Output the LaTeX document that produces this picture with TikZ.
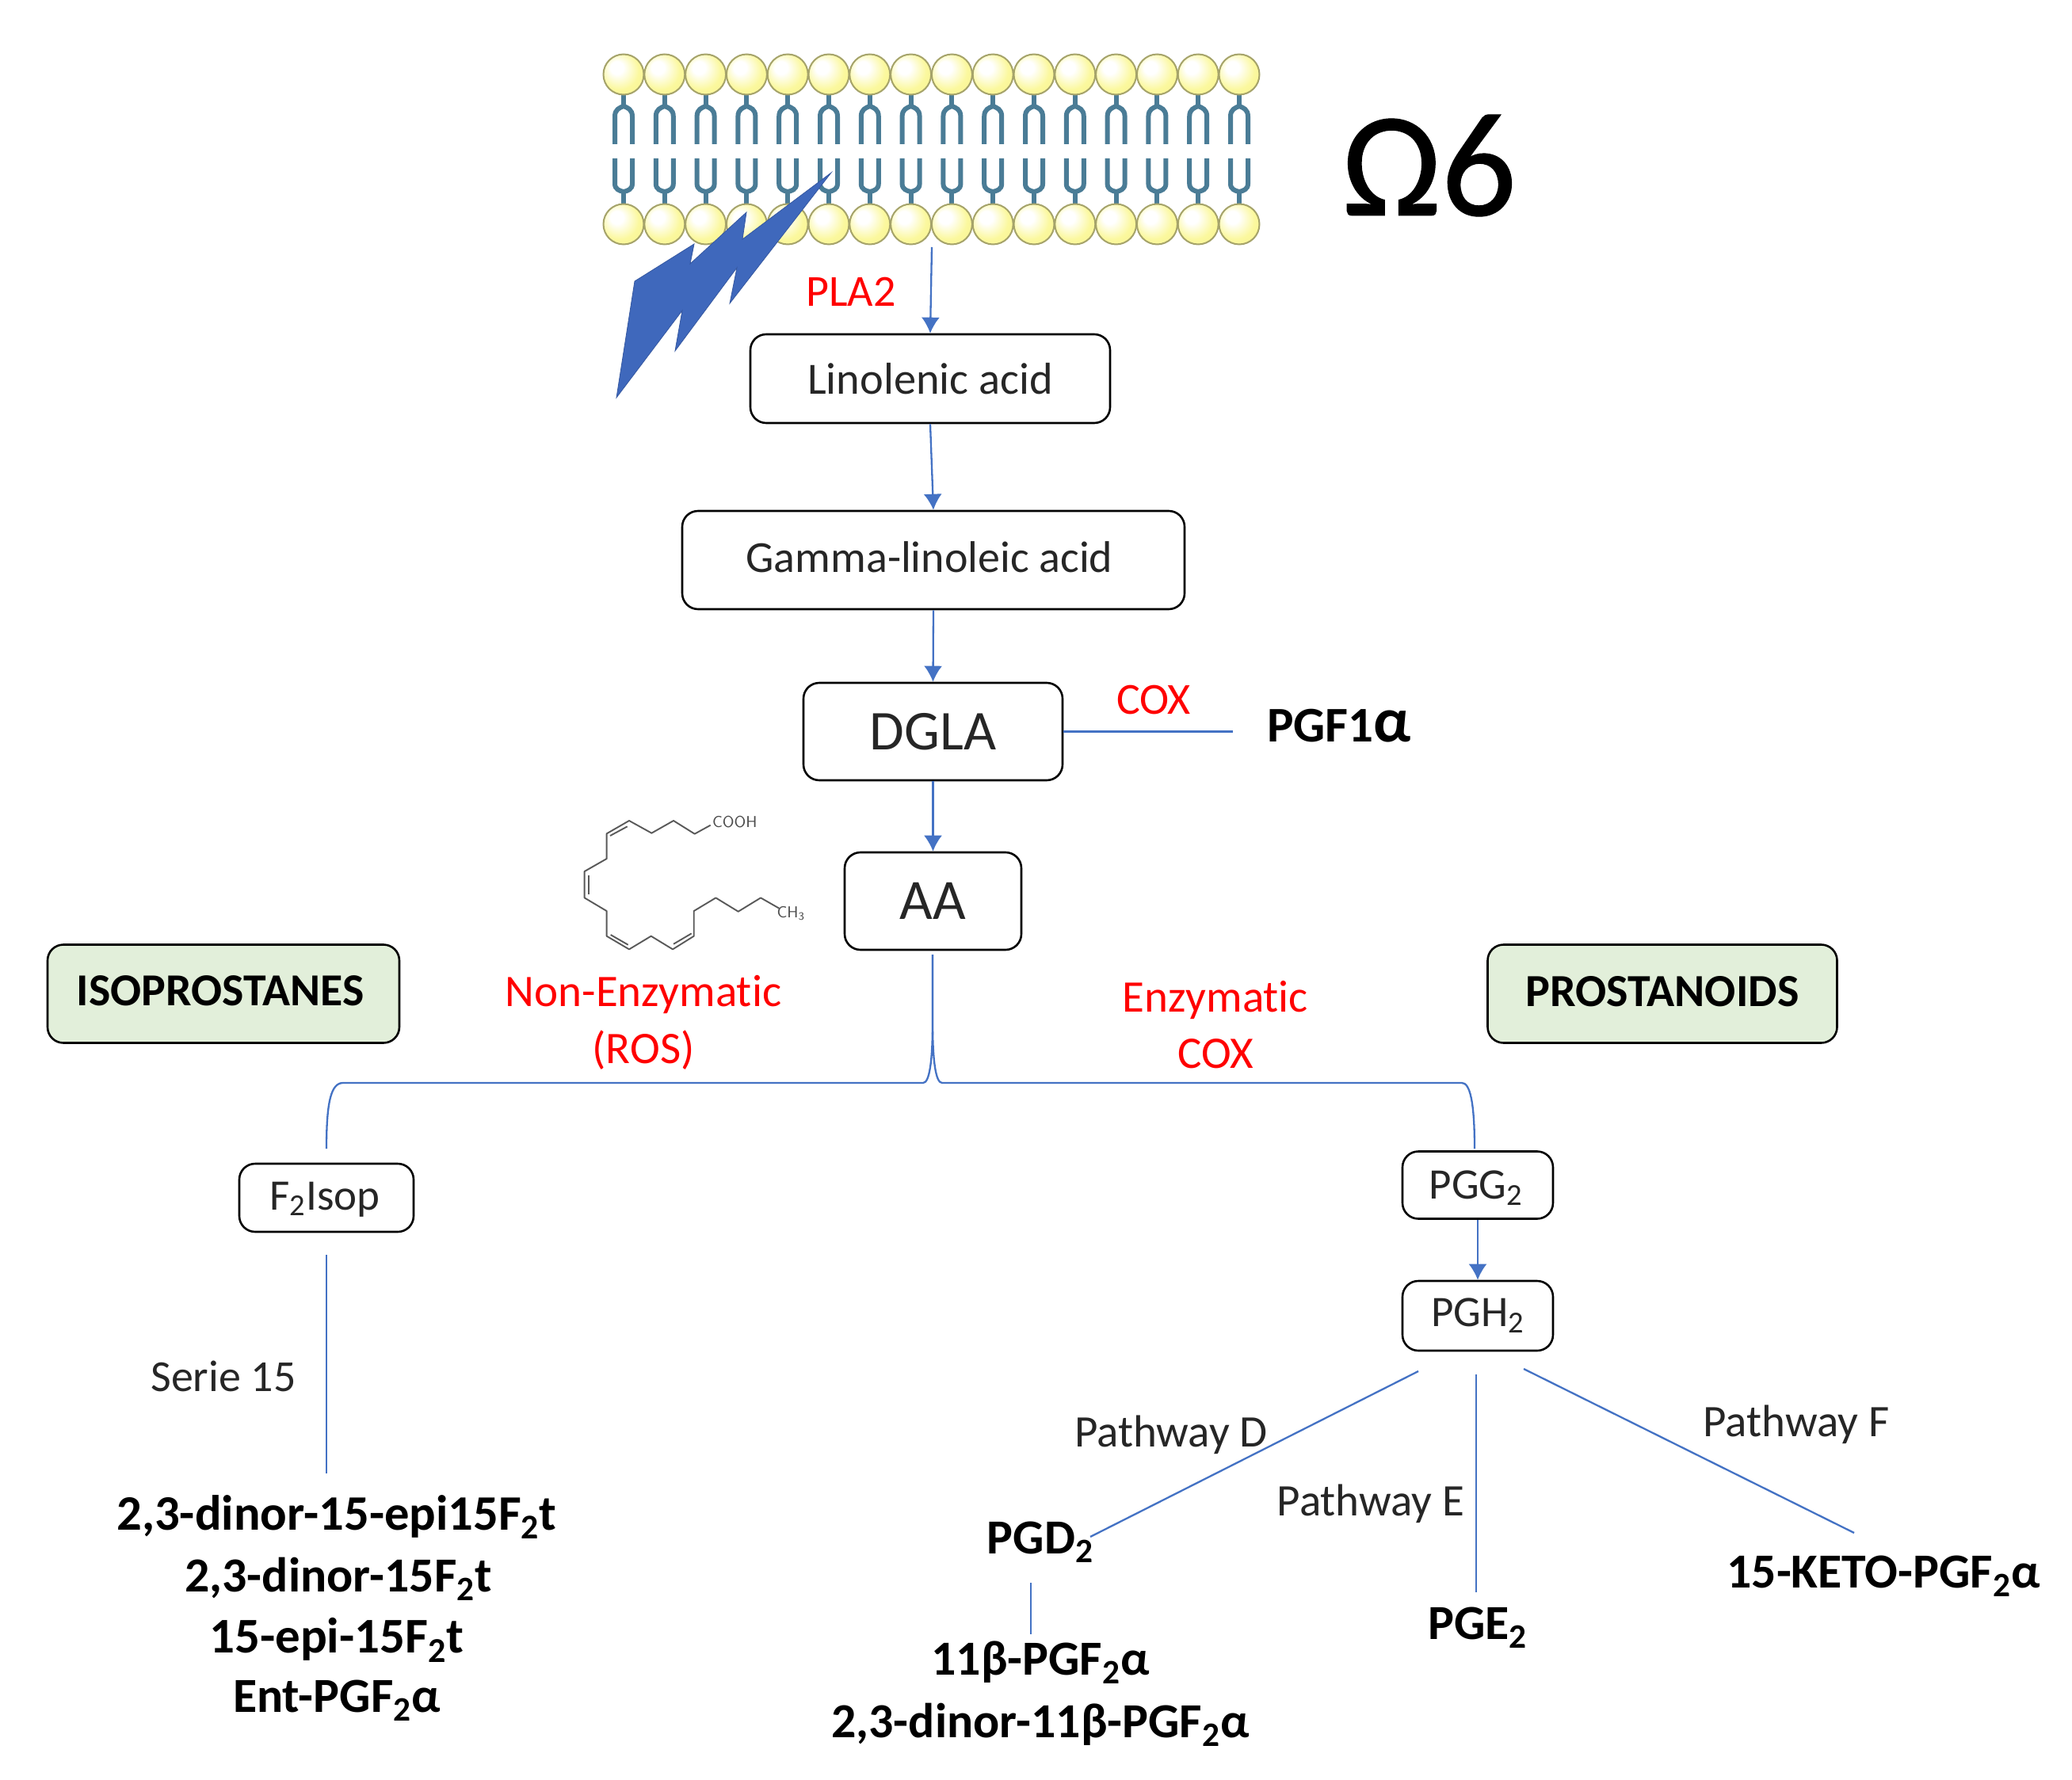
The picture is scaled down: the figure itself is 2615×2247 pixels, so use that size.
\documentclass[tikz,border=0pt]{standalone}
\usepackage{fontspec}
\usetikzlibrary{arrows.meta}
\setmainfont{Carlito}[Ligatures=NoCommon]
\newfontfamily\omegafont{Carlito}[FakeBold=0.6]
\newcommand{\subn}[1]{\textsubscript{#1}}
\newcommand{\fs}[1]{\fontsize{#1}{#1}\selectfont}
\definecolor{headyellow}{HTML}{FBF89E}
\definecolor{headedge}{HTML}{F4EE85}
\definecolor{headline}{HTML}{A5A36A}
\definecolor{tailc}{HTML}{4A7C96}
\definecolor{flow}{HTML}{4472C4}
\definecolor{boltc}{HTML}{3F68BC}
\definecolor{greenbox}{HTML}{E2EFDA}
\definecolor{redtxt}{HTML}{FF0000}
\definecolor{txt}{HTML}{262626}
\pgfdeclareradialshading{lipidhead}{\pgfpoint{-0.35cm}{0.35cm}}{%
  color(0bp)=(white); color(8bp)=(white); color(24bp)=(headyellow); color(50bp)=(headedge)}
\tikzset{
  box/.style={draw=black,line width=1.3pt,rounded corners=10pt,fill=white,inner sep=0pt,text=txt},
  green/.style={box,fill=greenbox,text=black},
  lab/.style={inner sep=0pt,text=txt,align=center,font=\fs{28.5}},
  enz/.style={inner sep=0pt,text=redtxt,align=center,font=\fs{28.5}},
  prod/.style={inner sep=0pt,text=black,align=center,font=\bfseries\fs{30.9}},
  conn/.style={draw=flow,line width=1.15pt},
  arr/.style={conn,-{Latex[length=10pt,width=11.5pt]}},
  tail/.style={draw=tailc,line width=3pt},
  chain/.style={draw=gray!70!black,line width=0.95pt,line join=round},
}
\begin{document}
\begin{tikzpicture}[x=0.5pt,y=-0.5pt]
\useasboundingbox[fill=white] (0,0) rectangle (2615,2247);
% membrane
\foreach \i in {0,...,15}{
  \pgfmathsetmacro{\c}{787+51.8*\i}
  \draw[tail] (\c,118) -- (\c,134);
  \draw[tail] (\c-11,182) -- (\c-11,147) .. controls (\c-11,138) and (\c-5,136) .. (\c,134) .. controls (\c+5,136) and (\c+11,138) .. (\c+11,147) -- (\c+11,182);
  \draw[tail] (\c,262) -- (\c,242);
  \draw[tail] (\c-11,200) -- (\c-11,232) .. controls (\c-11,239) and (\c-5,241) .. (\c,242) .. controls (\c+5,241) and (\c+11,239) .. (\c+11,232) -- (\c+11,200);
  \draw[draw=headline,line width=1pt,shading=lipidhead] (\c,94) circle (25.5);
  \draw[draw=headline,line width=1pt,shading=lipidhead] (\c,283) circle (25.5);
}
% lightning
\fill[boltc,draw=boltc!85!black,line width=.4pt,line join=miter]
 (1049,218) -- (937,302) -- (942,268) -- (871,333) -- (876,308) -- (801,355) -- (778,502)
 -- (861,392) -- (852,443) -- (930,338) -- (921,383) -- cycle;
% omega six
\node[inner sep=0pt,text=black,font=\omegafont\fs{94}] (omega) at (1804,209) {Ω6};
% molecule
\begin{scope}[shift={(700,1000)},x=0.1667pt,y=-0.1667pt]
  \draw[chain] (590,125) -- (530,158) -- (450,108) -- (367,155) -- (282,108) -- (197,157) -- (197,252) -- (113,300) -- (113,400) -- (197,450) -- (197,545) -- (282,595) -- (365,545) -- (447,595) -- (527,545) -- (527,450) -- (610,400) -- (695,452) -- (780,400) -- (850,440);
  \draw[chain] (275,130) -- (210,165);
  \draw[chain] (128,315) -- (128,388);
  \draw[chain] (212,540) -- (278,578);
  \draw[chain] (450,575) -- (518,535);
  \node[inner sep=0pt,text=gray!60!black,font=\sffamily\fs{10}] (cooh) at (682,112) {COOH};
  \node[inner sep=0pt,text=gray!60!black,font=\sffamily\fs{10}] (chthree) at (895,458) {CH\subn{3}};
\end{scope}
% boxes
\node[box,minimum width=227pt,minimum height=56pt,font=\fs{28.2}] (lin) at (1174,478) {Linolenic acid};
\node[box,minimum width=317pt,minimum height=62pt,font=\fs{28},text depth=4.3pt] (gam) at (1178,707) {\hspace*{-5pt}Gamma-linoleic acid};
\node[box,minimum width=163.5pt,minimum height=61.5pt,font=\fs{35.5}] (dgla) at (1177.5,923.5) {DGLA};
\node[box,minimum width=111.5pt,minimum height=61.5pt,font=\fs{36}] (aa) at (1177.5,1137.5) {AA};
\node[green,minimum width=222pt,minimum height=62pt,font=\bfseries\fs{28.9},text depth=3.5pt] (iso) at (282,1254.5) {\hspace*{-4pt}ISOPROSTANES};
\node[green,minimum width=220.5pt,minimum height=62pt,font=\bfseries\fs{29},text depth=3.5pt] (pro) at (2098,1254.5) {PROSTANOIDS};
\node[box,minimum width=110pt,minimum height=43pt,font=\fs{27.5},text height=19.5pt] (f2) at (412,1512) {\hspace*{-2pt}F\subn{2}Isop};
\node[box,minimum width=95pt,minimum height=42.5pt,font=\fs{27.5},text height=21.4pt] (pgg) at (1865,1496) {\hspace*{-2pt}PGG\subn{2}};
\node[box,minimum width=95pt,minimum height=44pt,font=\fs{27.5}] (pgh) at (1865,1661) {PGH\subn{2}};
% labels
\node[enz,font=\fs{28}] (pla) at (1074,368) {PLA2};
\node[enz,font=\fs{28}] (coxa) at (1456,884) {COX};
\node[inner sep=0pt,font=\bfseries\fs{31.5},text=black] (pgf) at (1690,916) {PGF1{\fs{40}α}};
\node[enz,text width=400pt] (non) at (812,1291) {Non-Enzymatic\\[7.5pt](ROS)};
\node[enz,text width=300pt] (enzy) at (1534,1294) {Enzymatic\\[7pt]COX};
\node[lab,font=\fs{28}] (ser) at (282,1737) {Serie 15};
\node[prod,font=\bfseries\fs{31.3}] (l1) at (425,1915) {2,3-dinor-15-epi15F\subn{2}t};
\node[prod] (l2) at (427,1993) {2,3-dinor-15F\subn{2}t};
\node[prod,font=\bfseries\fs{31.5}] (l3) at (425,2070) {15-epi-15F\subn{2}t};
\node[prod] (l4) at (425,2147) {Ent-PGF\subn{2}α};
\node[lab] (pd) at (1478,1811) {Pathway D};
\node[lab] (pe) at (1730,1898) {Pathway E};
\node[lab] (pf) at (2267,1798) {Pathway F};
\node[prod] (pgd) at (1313,1947) {PGD\subn{2}};
\node[prod] (b11) at (1313,2099) {11β-PGF\subn{2}α};
\node[prod] (dn) at (1313,2177) {2,3-dinor-11β-PGF\subn{2}α};
\node[prod] (pge) at (1865,2055) {PGE\subn{2}};
\node[prod] (keto) at (2377,1990) {15-KETO-PGF\subn{2}α};
% free ends
\coordinate (memb) at (1176,312);
\coordinate (pgfend) at (1556,923.5);
\coordinate (aatop) at (1177,1205);
\coordinate (f2top) at (412,1450);
\coordinate (pggtop) at (1861,1450);
\coordinate (f2bot) at (412,1584);
\coordinate (ser15) at (412,1860);
\coordinate (dstart) at (1790,1731);
\coordinate (dend) at (1376,1940);
\coordinate (estart) at (1863,1735);
\coordinate (eend) at (1863,2010);
\coordinate (fstart) at (1923,1728);
\coordinate (fend) at (2340,1935);
\coordinate (gstart) at (1301,1998);
\coordinate (gend) at (1301,2063);
% connectors
\draw[arr] (memb) -- (lin.north);
\draw[arr] (lin.south) -- (gam.north);
\draw[arr] (gam.south) -- (dgla.north);
\draw[arr] (dgla.south) -- (aa.north);
\draw[conn] (dgla.east) -- (pgfend);
\draw[arr] (pgg.south) -- (pgh.north);
\draw[conn] (aatop) -- (1177,1290) .. controls (1177,1340) and (1173,1367) .. (1165,1367) -- (433,1367) .. controls (418,1367) and (412,1390) .. (f2top);
\draw[conn] (aatop) -- (1177,1290) .. controls (1177,1340) and (1181,1367) .. (1189,1367) -- (1845,1367) .. controls (1855,1367) and (1861,1390) .. (pggtop);
\draw[conn] (f2bot) -- (ser15);
\draw[conn] (dstart) -- (dend);
\draw[conn] (estart) -- (eend);
\draw[conn] (fstart) -- (fend);
\draw[conn] (gstart) -- (gend);
\end{tikzpicture}
\end{document}
